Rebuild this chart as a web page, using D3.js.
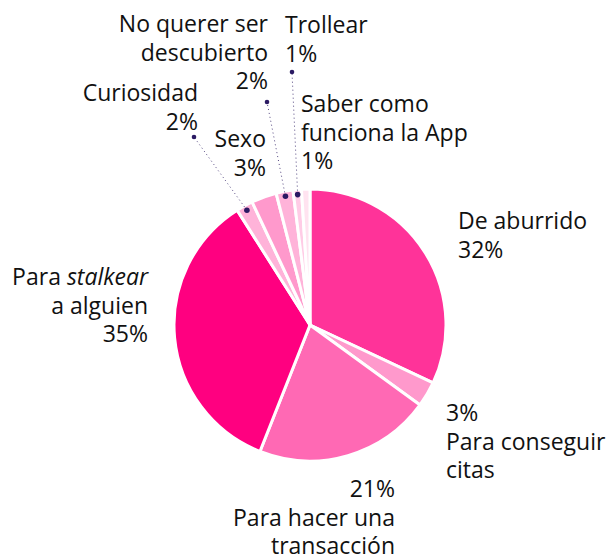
<!DOCTYPE html>
<html>
<head>
<meta charset="utf-8">
<script src="https://cdn.jsdelivr.net/npm/d3@7"></script>
<style>
  html, body { margin: 0; padding: 0; background: #fff; }
  svg text { font-family: "Open Sans", "Noto Sans", sans-serif; font-size: 23px; fill: #111; }
</style>
</head>
<body>
<svg id="chart" width="611" height="559"></svg>
<script>
// Motivos de uso, en porcentaje, en el sentido de las agujas del reloj desde las 12
const categories = [
  "De aburrido",
  "Para conseguir citas",
  "Para hacer una transacción",
  "Para stalkear a alguien",
  "Curiosidad",
  "Sexo",
  "No querer ser descubierto",
  "Trollear",
  "Saber como funciona la App"
];
const values = [32, 3, 21, 35, 2, 3, 2, 1, 1];
const colors = ["#ff3399", "#ff99cc", "#ff69b4", "#ff0080", "#ffb3d9", "#ff99cc", "#ffb3d9", "#ffcce6", "#ffe3f0"];

// Etiquetas: líneas de texto (el porcentaje se inserta desde values)
const labelLines = [
  [["De aburrido"], ["%"]],
  [["%"], ["Para conseguir"], ["citas"]],
  [["%"], ["Para hacer una"], ["transacción"]],
  [["Para ", "stalkear"], ["a alguien"], ["%"]],
  [["Curiosidad"], ["%"]],
  [["Sexo"], ["%"]],
  [["No querer ser"], ["descubierto"], ["%"]],
  [["Trollear"], ["%"]],
  [["Saber como"], ["funciona la App"], ["%"]]
];

// Layout of each label block: anchor x, first baseline y, alignment, leader dot (or null)
const labelLayout = [
  { x: 458, y: 229, anchor: "start", dot: null },
  { x: 446, y: 421, anchor: "start", dot: null },
  { x: 395, y: 497, anchor: "end", dot: null },
  { x: 148, y: 285, anchor: "end", dot: null },
  { x: 198, y: 101, anchor: "end", dot: [194, 137] },
  { x: 266, y: 147, anchor: "end", dot: null },
  { x: 268, y: 32, anchor: "end", dot: [267, 102] },
  { x: 285, y: 33, anchor: "start", dot: [292, 72] },
  { x: 301, y: 112, anchor: "start", dot: null }
];

const cx = 310, cy = 325, radius = 136, lineH = 28.5;
const svg = d3.select("#chart");
const g = svg.append("g").attr("transform", `translate(${cx},${cy})`);

const pie = d3.pie().sort(null).value(d => d)(values);
const arc = d3.arc().innerRadius(0).outerRadius(radius);
const dotArc = d3.arc().innerRadius(131).outerRadius(131);

g.selectAll("path.slice")
  .data(pie)
  .join("path")
  .attr("class", "slice")
  .attr("d", arc)
  .attr("fill", (d, i) => colors[i])
  .attr("stroke", "#fff")
  .attr("stroke-width", 3)
  .attr("stroke-linejoin", "round");

// Leader lines for the small slices
const leaders = pie.map((d, i) => ({ d, i, L: labelLayout[i] })).filter(o => o.L.dot);
const lineColor = "#2b1a63";
leaders.forEach(o => {
  const [px, py] = dotArc.centroid(o.d);
  const sx = cx + px, sy = cy + py;
  const [ex, ey] = o.L.dot;
  svg.append("line")
    .attr("x1", sx).attr("y1", sy).attr("x2", ex).attr("y2", ey)
    .attr("stroke", lineColor).attr("stroke-width", 1)
    .attr("stroke-dasharray", "1,3").attr("opacity", 0.8);
  svg.append("circle").attr("cx", sx).attr("cy", sy).attr("r", 2.8).attr("fill", lineColor);
  svg.append("circle").attr("cx", ex).attr("cy", ey).attr("r", 2.3).attr("fill", lineColor);
});

// Text labels
labelLines.forEach((lines, i) => {
  const L = labelLayout[i];
  const t = svg.append("text").attr("text-anchor", L.anchor);
  lines.forEach((parts, k) => {
    const y = L.y + k * lineH;
    parts.forEach((p, j) => {
      const span = t.append("tspan");
      if (j === 0) span.attr("x", L.x).attr("y", y);
      if (p === "%") span.text(values[i] + "%");
      else span.text(p);
      if (p === "stalkear") span.attr("font-style", "italic");
    });
  });
});
</script>
</body>
</html>
